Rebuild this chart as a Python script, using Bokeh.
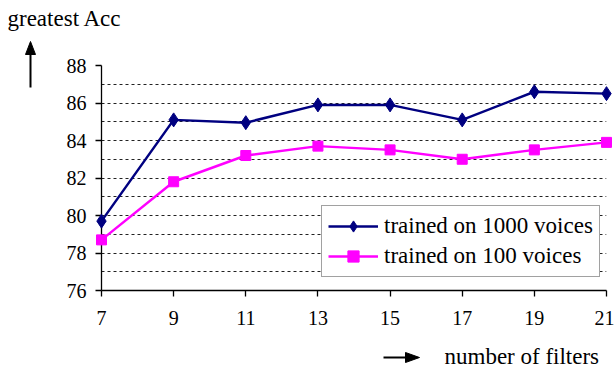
from bokeh.plotting import figure
from bokeh.models import Range1d, FixedTicker, Legend, LegendItem
from bokeh.core.properties import value
from bokeh.embed import file_html
from bokeh.resources import INLINE

# ---- data ----
filters = [7, 9, 11, 13, 15, 17, 19, 21]
acc_1000 = [79.7, 85.1, 84.95, 85.9, 85.9, 85.1, 86.6, 86.5]
acc_100 = [78.7, 81.8, 83.2, 83.7, 83.5, 83.0, 83.5, 83.9]
y_ticks = [76, 78, 80, 82, 84, 86, 88]
y_minor = [77, 79, 81, 83, 85, 87]
series_names = ["trained on 1000 voices", "trained on 100 voices"]
y_label = "greatest Acc"
x_label = "number of filters"

FONT = "'Liberation Serif', 'Times New Roman', serif"
NAVY = "#000080"
MAGENTA = "#FF00FF"

p = figure(width=614, height=369, output_backend="svg", toolbar_location=None,
           x_range=Range1d(7, 21), y_range=Range1d(76, 88),
           min_border_left=101, min_border_right=8, min_border_top=65,
           min_border_bottom=79)
p.outline_line_color = None
p.background_fill_color = "white"
p.border_fill_color = "white"

# axes
p.xaxis.ticker = FixedTicker(ticks=filters)
p.yaxis.ticker = FixedTicker(ticks=y_ticks, minor_ticks=y_minor)
for ax in (p.xaxis, p.yaxis):
    ax.axis_line_color = "black"
    ax.axis_line_width = 1.3
    ax.major_tick_line_color = "black"
    ax.major_tick_line_width = 1.3
    ax.major_tick_in = 0
    ax.major_tick_out = 6
    ax.minor_tick_line_color = None
    ax.major_label_text_font = FONT
    ax.major_label_text_font_size = "20px"
    ax.major_label_text_color = "black"
p.xaxis.major_label_standoff = 14
p.yaxis.major_label_standoff = 9

# grid
p.xgrid.grid_line_color = None
p.ygrid.grid_line_color = "#222222"
p.ygrid.grid_line_dash = "3 3"
p.ygrid.grid_line_width = 1
p.ygrid.minor_grid_line_color = "#222222"
p.ygrid.minor_grid_line_dash = "3 3"
p.ygrid.minor_grid_line_width = 1

# series
l1 = p.line(filters, acc_1000, line_color=NAVY, line_width=2.5, level="overlay")
s1 = p.scatter(filters, acc_1000, marker="diamond", size=14, fill_color=NAVY,
               line_color=NAVY, level="overlay")
l2 = p.line(filters, acc_100, line_color=MAGENTA, line_width=2.5, level="overlay")
s2 = p.scatter(filters, acc_100, marker="square", size=10, fill_color=MAGENTA,
               line_color=MAGENTA, level="overlay")

legend = Legend(items=[LegendItem(label=series_names[0], renderers=[l1, s1]),
                       LegendItem(label=series_names[1], renderers=[l2, s2])],
                location=(220, 13))
legend.label_text_font = FONT
legend.label_text_font_size = "23px"
legend.label_text_color = "black"
legend.border_line_color = "#444444"
legend.border_line_width = 1.3
legend.background_fill_color = "white"
legend.background_fill_alpha = 1
legend.glyph_width = 50
legend.glyph_height = 28
legend.label_height = 28
legend.label_standoff = 6
legend.spacing = 2
legend.padding = 6
legend.margin = 0
p.add_layout(legend, "center")

# pixel -> data helpers for placing the axis captions and arrows
def dx(px):
    return 7 + (px - 101) / (505 / 14)

def dy(py):
    return 88 - (py - 65) / (225 / 12)

# axis captions (glyph renderers at overlay level so they are not clipped)
p.text(x=[dx(7)], y=[dy(18)], text=[y_label], text_font=value(FONT),
       text_font_size="23px", text_color="black", text_baseline="middle",
       text_align="left", level="overlay")
p.text(x=[dx(444)], y=[dy(356)], text=[x_label], text_font=value(FONT),
       text_font_size="23px", text_color="black", text_baseline="middle",
       text_align="left", level="overlay")

# arrows: shafts + heads
p.segment(x0=[dx(30), dx(383)], y0=[dy(87), dy(357)],
          x1=[dx(30), dx(408)], y1=[dy(52), dy(357)],
          line_color="black", line_width=2, level="overlay")
p.patch(x=[dx(30), dx(25), dx(35)], y=[dy(41), dy(54), dy(54)],
        fill_color="black", line_color="black", level="overlay")
p.patch(x=[dx(419), dx(405), dx(405)], y=[dy(357), dy(352), dy(362)],
        fill_color="black", line_color="black", level="overlay")

open("out.html", "w").write(file_html(p, INLINE))
